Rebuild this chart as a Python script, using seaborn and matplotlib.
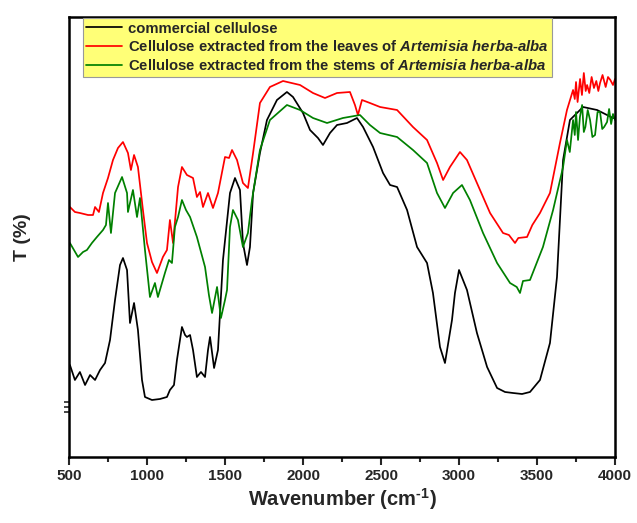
import numpy as np
import pandas as pd
import matplotlib
matplotlib.use("Agg")
import matplotlib.pyplot as plt
import seaborn as sns

# FTIR transmittance spectra (arbitrary T units)
wn_commercial = [500, 506, 538, 570, 603, 635, 667, 699, 731, 763, 795, 827, 846, 872, 891, 917, 942,
                 968, 987, 1032, 1083, 1128, 1147, 1173, 1192, 1224, 1244, 1256, 1276, 1295, 1320,
                 1346, 1372, 1391, 1404, 1430, 1455, 1487, 1532, 1564, 1596, 1615, 1641, 1660, 1680,
                 1724, 1769, 1833, 1897, 1936, 2000, 2045, 2096, 2128, 2173, 2218, 2282, 2346, 2385,
                 2449, 2513, 2558, 2603, 2667, 2731, 2795, 2833, 2878, 2910, 2955, 2974, 3000, 3051,
                 3115, 3180, 3244, 3295, 3346, 3404, 3455, 3519, 3583, 3628, 3667, 3711, 3795, 3885,
                 3987, 4000]
t_commercial = [90, 92, 77, 85, 72, 82, 77, 87, 94, 117, 157, 192, 199, 187, 134, 154, 127,
                77, 60, 57, 58, 60, 67, 72, 97, 130, 122, 120, 122, 107, 80,
                85, 80, 107, 120, 89, 107, 197, 264, 279, 267, 214, 192, 210, 264,
                304, 337, 357, 365, 360, 344, 327, 319, 312, 324, 332, 334, 339, 330,
                310, 284, 272, 270, 247, 210, 194, 164, 110, 94, 137, 164, 187, 167,
                124, 90, 69, 65, 64, 63, 65, 77, 114, 180, 297, 337, 350, 347,
                339, 339]

wn_leaves = [500, 506, 538, 570, 622, 654, 667, 692, 718, 750, 782, 814, 846, 878, 897, 917, 942,
             974, 1000, 1032, 1064, 1102, 1128, 1147, 1167, 1199, 1224, 1256, 1295, 1320, 1340,
             1359, 1391, 1423, 1455, 1500, 1526, 1545, 1577, 1615, 1647, 1680, 1724, 1788, 1872,
             1981, 2064, 2141, 2218, 2301, 2333, 2352, 2378, 2429, 2494, 2603, 2705, 2795, 2859,
             2898, 2942, 3006, 3051, 3115, 3199, 3282, 3320, 3359, 3380, 3436, 3470, 3519, 3583,
             3647, 3692, 3731, 3742, 3750, 3760, 3776, 3788, 3800, 3812, 3821, 3835, 3850, 3865,
             3880, 3893, 3904, 3920, 3940, 3955, 3970, 3987, 4000]
t_leaves = [248, 250, 245, 244, 242, 242, 250, 245, 264, 279, 297, 309, 315, 304, 287, 302, 290,
            247, 214, 195, 184, 200, 207, 237, 214, 270, 290, 282, 279, 260, 265,
            250, 264, 249, 264, 300, 299, 307, 297, 274, 269, 304, 354, 370, 376,
            372, 364, 359, 364, 365, 352, 342, 357, 354, 350, 347, 330, 317, 294,
            277, 290, 305, 297, 274, 244, 224, 222, 214, 219, 220, 232, 244, 264,
            314, 347, 367, 358, 375, 355, 378, 362, 384, 366, 372, 364, 380, 369,
            376, 366, 374, 382, 370, 380, 377, 372, 378]

wn_stems = [500, 506, 558, 590, 615, 647, 679, 718, 737, 750, 769, 795, 840, 872, 878, 910, 936,
            955, 987, 1019, 1051, 1070, 1115, 1141, 1160, 1179, 1199, 1224, 1250, 1276, 1320,
            1372, 1397, 1417, 1449, 1474, 1500, 1513, 1532, 1551, 1583, 1615, 1647, 1673, 1724,
            1788, 1897, 1981, 2064, 2154, 2256, 2365, 2429, 2494, 2603, 2705, 2795, 2859, 2910,
            2962, 3019, 3070, 3154, 3244, 3327, 3370, 3391, 3410, 3455, 3538, 3603, 3667, 3692,
            3710, 3731, 3742, 3750, 3763, 3775, 3789, 3800, 3810, 3825, 3840, 3855, 3872, 3888,
            3904, 3918, 3930, 3949, 3962, 3975, 3987, 4000]
t_stems = [212, 214, 200, 205, 207, 214, 220, 227, 232, 254, 224, 264, 280, 264, 245, 267, 240,
           259, 207, 160, 174, 160, 184, 197, 194, 230, 240, 257, 247, 240, 220,
           190, 162, 144, 170, 139, 157, 167, 230, 247, 237, 210, 224, 257, 307,
           337, 352, 347, 339, 334, 339, 342, 332, 324, 320, 307, 294, 264, 249,
           264, 272, 257, 224, 194, 174, 170, 164, 176, 177, 210, 247, 290, 317,
           305, 337, 322, 345, 317, 340, 352, 325, 330, 347, 337, 320, 322, 345,
           345, 328, 330, 335, 348, 333, 343, 337]

series_names = [
    "commercial cellulose",
    "Cellulose extracted from the leaves of $\\it{Artemisia}$ $\\it{herba}$-$\\it{alba}$",
    "Cellulose extracted from the stems of $\\it{Artemisia}$ $\\it{herba}$-$\\it{alba}$",
]
series_colors = ["#000000", "#ff0000", "#008000"]

frames = []
for name, wn, t in zip(series_names,
                       [wn_commercial, wn_leaves, wn_stems],
                       [t_commercial, t_leaves, t_stems]):
    frames.append(pd.DataFrame({"Wavenumber": wn, "T": t, "Sample": name}))
df = pd.concat(frames, ignore_index=True)

sns.set_theme(style="white")
plt.rcParams["font.family"] = ["Liberation Sans", "DejaVu Sans"]
plt.rcParams["mathtext.fontset"] = "custom"
plt.rcParams["mathtext.rm"] = "Liberation Sans:bold"
plt.rcParams["mathtext.it"] = "Liberation Sans:italic:bold"
plt.rcParams["mathtext.bf"] = "Liberation Sans:bold"

fig = plt.figure(figsize=(6.37, 5.23), dpi=100)
ax = fig.add_axes([0.1083, 0.1262, 0.8572, 0.8413])

sns.lineplot(data=df, x="Wavenumber", y="T", hue="Sample", palette=series_colors,
             hue_order=series_names, sort=False, estimator=None, linewidth=1.25, ax=ax)

ax.set_xlim(500, 4000)
ax.set_ylim(0, 440)
ax.set_xticks(np.arange(500, 4001, 500))
ax.set_xticks(np.arange(750, 4000, 500), minor=True)
ax.set_yticks([45, 50, 55])
ax.set_yticklabels([])
ax.tick_params(axis="x", which="major", direction="out", length=6, width=1.5,
               labelsize=11, bottom=True, pad=3)
ax.tick_params(axis="x", which="minor", direction="out", length=3.5, width=1.5, bottom=True)
ax.tick_params(axis="y", which="major", direction="out", length=3.5, width=1.2, left=True)
for lbl in ax.get_xticklabels():
    lbl.set_fontweight("bold")

for sp in ax.spines.values():
    sp.set_color("black")
    sp.set_linewidth(1.8)

ax.set_xlabel("Wavenumber (cm$^{\\text{-1}}$)", fontsize=14.5, fontweight="bold", labelpad=2)
ax.set_ylabel("T (%)", fontsize=14, fontweight="bold", labelpad=20)

leg = ax.legend(loc="upper left", bbox_to_anchor=(0.025, 0.998), borderaxespad=0,
                frameon=True, fancybox=False, fontsize=10.7, handlelength=2.4,
                handletextpad=0.4, labelspacing=0.25, borderpad=0.25)
leg.get_frame().set_facecolor("#ffff77")
leg.get_frame().set_edgecolor("#999999")
leg.get_frame().set_linewidth(0.8)
leg.get_frame().set_alpha(1)
for txt in leg.get_texts():
    txt.set_fontweight("bold")

fig.savefig("out.png", dpi=100)
